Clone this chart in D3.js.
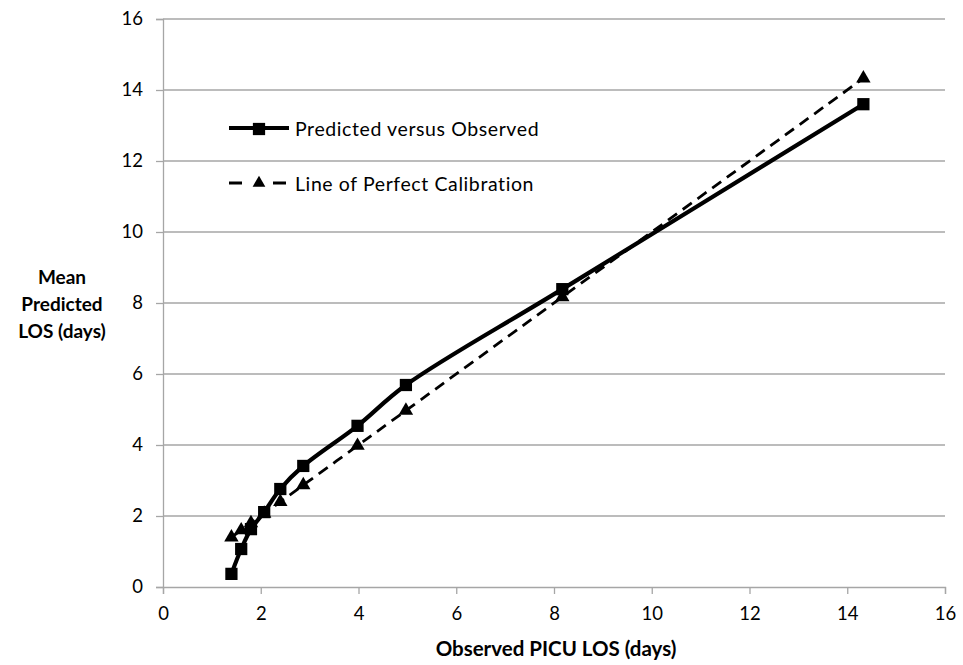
<!DOCTYPE html>
<html><head><meta charset="utf-8">
<script src="https://cdn.jsdelivr.net/npm/d3@7"></script>
<style>body{margin:0;background:#fff}svg{display:block}text{font-family:Lato,"Open Sans",sans-serif;fill:#000}</style>
</head><body>
<script>
const observed = [1.4, 1.6, 1.8, 2.07, 2.4, 2.87, 3.98, 4.97, 8.17, 14.33];
const predicted = [0.37, 1.07, 1.63, 2.11, 2.76, 3.41, 4.54, 5.69, 8.39, 13.6];
const perfect = [1.4, 1.6, 1.8, 2.07, 2.4, 2.87, 3.98, 4.97, 8.17, 14.33];
const xTicks = [0, 2, 4, 6, 8, 10, 12, 14, 16];
const yTicks = [0, 2, 4, 6, 8, 10, 12, 14, 16];
const seriesNames = ["Predicted versus Observed", "Line of Perfect Calibration"];

const W = 963, H = 665;
const svg = d3.select("body").append("svg").attr("width", W).attr("height", H);
const x = d3.scaleLinear().domain([0, 16]).range([163, 945]);
const y = d3.scaleLinear().domain([0, 16]).range([587, 19]);
const grey = "#a6a6a6";

// gridlines
svg.append("g").selectAll("line").data(yTicks.filter(d => d > 0)).join("line")
  .attr("x1", x(0)).attr("x2", x(16)).attr("y1", d => y(d)).attr("y2", d => y(d))
  .attr("stroke", grey).attr("stroke-width", 1.3);

const xAxis = svg.append("g").attr("transform", `translate(0,${y(0)})`)
  .call(d3.axisBottom(x).tickValues(xTicks).tickSize(7).tickPadding(13));
const yAxis = svg.append("g").attr("transform", `translate(${x(0)},0)`)
  .call(d3.axisLeft(y).tickValues(yTicks).tickSize(7).tickPadding(13));
[xAxis, yAxis].forEach(g => {
  g.select(".domain").attr("stroke", grey).attr("stroke-width", 1.3);
  g.selectAll(".tick line").attr("stroke", grey).attr("stroke-width", 1.3);
  g.selectAll(".tick text").attr("font-size", 18.5).attr("font-family", "Lato, sans-serif").attr("fill", "#000");
});

const ptsPred = observed.map((d, i) => [d, predicted[i]]);
const ptsPerf = observed.map((d, i) => [d, perfect[i]]);
const line = d3.line().x(d => x(d[0])).y(d => y(d[1])).curve(d3.curveCatmullRom.alpha(0.5));

svg.append("path").datum(ptsPerf).attr("d", line).attr("fill", "none")
  .attr("stroke", "#000").attr("stroke-width", 2.8).attr("stroke-dasharray", "11,7");
svg.append("path").datum(ptsPred).attr("d", line).attr("fill", "none")
  .attr("stroke", "#000").attr("stroke-width", 4.2);

const tri = d3.symbol().type(d3.symbolTriangle).size(90);
const sq = d3.symbol().type(d3.symbolSquare).size(150);
svg.append("g").selectAll("path").data(ptsPerf).join("path")
  .attr("d", tri).attr("transform", d => `translate(${x(d[0])},${y(d[1])})`).attr("fill", "#000");
svg.append("g").selectAll("path").data(ptsPred).join("path")
  .attr("d", sq).attr("transform", d => `translate(${x(d[0])},${y(d[1])})`).attr("fill", "#000");

// legend
const leg = svg.append("g");
leg.append("line").attr("x1", 229).attr("x2", 289).attr("y1", 128).attr("y2", 128).attr("stroke", "#000").attr("stroke-width", 4.2);
leg.append("path").attr("d", sq).attr("transform", "translate(259,129)");
leg.append("text").attr("x", 295).attr("y", 129).attr("dy", "0.35em").attr("font-size", 19.5).attr("letter-spacing", 0.6).text(seriesNames[0]);
leg.append("line").attr("x1", 229).attr("x2", 288).attr("y1", 183).attr("y2", 183).attr("stroke", "#000").attr("stroke-width", 2.8).attr("stroke-dasharray", "13,31");
leg.append("path").attr("d", d3.symbol().type(d3.symbolTriangle).size(70)).attr("transform", "translate(259,183)");
leg.append("text").attr("x", 295).attr("y", 184).attr("dy", "0.35em").attr("font-size", 19.5).attr("letter-spacing", 0.6).text(seriesNames[1]);

// axis titles
svg.append("text").attr("x", 556).attr("y", 649).attr("dy", "0.35em").attr("text-anchor", "middle")
  .attr("font-size", 20.5).attr("font-weight", "bold").text("Observed PICU LOS (days)");
const yt = svg.append("text").attr("text-anchor", "middle").attr("font-size", 19).attr("font-weight", "bold");
["Mean", "Predicted", "LOS (days)"].forEach((t, i) =>
  yt.append("tspan").attr("x", 62).attr("y", 277 + i * 27).attr("dy", "0.35em").text(t));
</script>
</body></html>
